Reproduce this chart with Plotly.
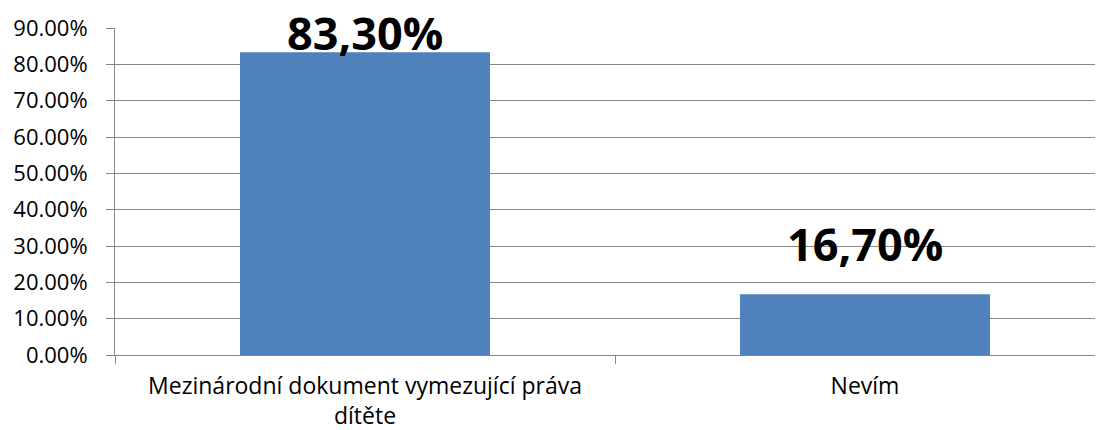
import plotly.graph_objects as go

categories = ["Mezinárodní dokument vymezující práva<br>dítěte", "Nevím"]
values_pct = [83.30, 16.70]
label_shift = [-13, 18]
y_tick_vals = [0, 10, 20, 30, 40, 50, 60, 70, 80, 90]

values = [v / 100 for v in values_pct]
labels = [f"{v:.2f}".replace(".", ",") + "%" for v in values_pct]

GRID = "#868686"
BAR = "#4F81BD"

fig = go.Figure()
fig.add_trace(go.Bar(
    x=categories, y=values, width=0.5,
    marker=dict(color=BAR, line=dict(width=0)),
    hoverinfo="skip", showlegend=False,
))

for c, v, lab, s in zip(categories, values, labels, label_shift):
    fig.add_annotation(
        x=c, y=v, text=f"<b>{lab}</b>", showarrow=False,
        yanchor="bottom", xanchor="center", yshift=s,
        font=dict(family="Open Sans", size=45, color="#000000"),
    )

fig.update_layout(
    width=1095, height=422, autosize=False,
    margin=dict(l=107, r=0, t=20, b=75),
    plot_bgcolor="white", paper_bgcolor="white",
    bargap=0.5,
    font=dict(family="Open Sans", size=23, color="#000000"),
)
fig.update_xaxes(
    type="category", range=[-0.5, 1.476],
    showline=True, linecolor=GRID, linewidth=1,
    ticks="outside", ticklen=8, tickcolor=GRID, tickson="boundaries",
    showgrid=False, ticklabelstandoff=10, automargin=False,
    tickfont=dict(family="Open Sans", size=23, color="#000000"),
)
fig.update_yaxes(
    range=[0, 0.9], tickvals=[t / 100 for t in y_tick_vals], tickformat=".2%",
    showline=True, linecolor=GRID, linewidth=1,
    ticks="outside", ticklen=8, tickcolor=GRID,
    showgrid=True, gridcolor=GRID, gridwidth=1, zeroline=False,
    ticklabelstandoff=14, automargin=False,
    tickfont=dict(family="Open Sans", size=22, color="#000000"),
)

fig.write_html("out.html")
